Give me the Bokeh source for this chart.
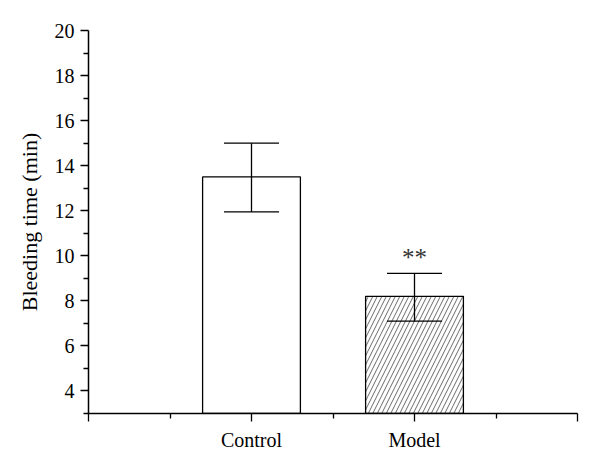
from bokeh.plotting import figure
from bokeh.models import Range1d, FixedTicker, ColumnDataSource, Whisker, TeeHead
from bokeh.embed import file_html
from bokeh.resources import INLINE
from bokeh.core.properties import value

groups = ["Control", "Model"]
xpos = [2, 4]
means = [13.5, 8.2]
lower = [11.95, 7.1]
upper = [15.0, 9.22]
hatches = [" ", "/"]
sig = ["", "**"]

FONT = "Liberation Serif"

p = figure(width=600, height=467, output_backend="svg", toolbar_location=None,
           x_range=Range1d(0, 6), y_range=Range1d(3, 20),
           min_border_left=88, min_border_top=30, min_border_right=23, min_border_bottom=54)
p.outline_line_color = None
p.grid.visible = False

src = ColumnDataSource(dict(x=xpos, top=means, lower=lower, upper=upper, hatch=hatches,
                            sig=sig, sy=upper))
p.vbar(x="x", top="top", bottom=3, width=1.2, source=src, fill_color="white",
       line_color="black", line_width=1.3, hatch_pattern="hatch", hatch_color="#444444",
       hatch_scale=9, hatch_weight=0.8)

w = Whisker(base="x", upper="upper", lower="lower", source=src, line_color="black", line_width=1.3,
            level="overlay",
            upper_head=TeeHead(size=55, line_color="black", line_width=1.3),
            lower_head=TeeHead(size=55, line_color="black", line_width=1.3))
p.add_layout(w)

p.text(x="x", y="sy", text="sig", source=src, text_align="center", text_baseline="bottom",
       y_offset=-2, text_font=value(FONT), text_font_size="25px", text_color="#333333")

p.xaxis.ticker = FixedTicker(ticks=[0, 2, 4, 6], minor_ticks=[1, 3, 5])
p.xaxis.major_label_overrides = {0: "", 2: groups[0], 4: groups[1], 6: ""}
p.yaxis.ticker = FixedTicker(ticks=list(range(4, 21, 2)), minor_ticks=list(range(3, 21, 2)))
p.yaxis.axis_label = "Bleeding time (min)"

for ax in (p.xaxis, p.yaxis):
    ax.axis_line_width = 1.5
    ax.major_tick_line_width = 1.3
    ax.minor_tick_line_width = 1.3
    ax.major_tick_out = 8
    ax.major_tick_in = 0
    ax.minor_tick_out = 5
    ax.minor_tick_in = 0
    ax.major_label_text_font = FONT
    ax.major_label_text_font_size = "20px"
    ax.major_label_text_color = "black"
    ax.axis_label_text_font = FONT
    ax.axis_label_text_font_size = "22px"
    ax.axis_label_text_font_style = "normal"
    ax.axis_label_text_color = "black"
p.xaxis.major_label_standoff = 7
p.yaxis.major_label_standoff = 6
p.yaxis.axis_label_standoff = 10

open("out.html", "w").write(file_html(p, INLINE))
